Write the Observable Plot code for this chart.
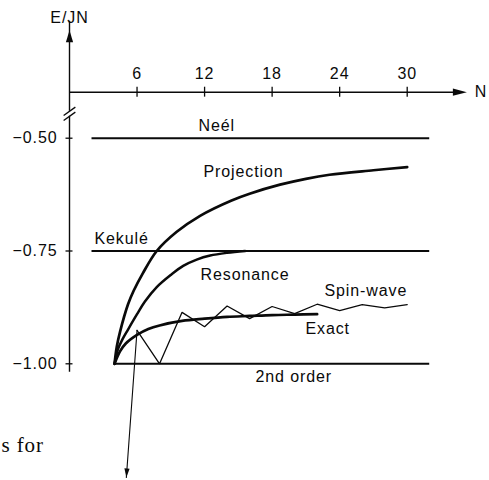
<!DOCTYPE html>
<html><head><meta charset="utf-8">
<script src="https://cdn.jsdelivr.net/npm/d3@7"></script>
<script src="https://cdn.jsdelivr.net/npm/@observablehq/plot@0.6"></script>
<style>body{margin:0;background:#fff} svg{display:block}</style>
</head><body><div id="chart"></div>
<script>
// ---- tick values / labels ----
const xTicks = [6, 12, 18, 24, 30];
const yTicks = [-1.00, -0.75, -0.50];
const yTickLabels = ["\u22121.00", "\u22120.75", "\u22120.50"];

// ---- horizontal reference levels ----
const levelNames  = ["Neél", "Kekulé", "2nd order"];
const levelValues = [-0.50, -0.75, -1.00];
const levelFrom   = [2, 2, 4];
const levelTo     = [32, 32, 32];

// ---- curves (N, E/JN) ----
const projN = [4, 4.2, 4.5, 5.2, 5.7, 6.5, 7.75, 9.5, 11.6, 14.4, 16, 18.7, 21, 23.1, 27, 30];
const projE = [-1.0, -0.962, -0.928, -0.868, -0.838, -0.800, -0.750, -0.708, -0.672, -0.638, -0.623, -0.603, -0.590, -0.581, -0.571, -0.564];

const resN = [4, 4.3, 4.7, 5.2, 6, 6.7, 7.75, 9, 10.1, 11.3, 12.5, 14, 15.6];
const resE = [-1.0, -0.968, -0.946, -0.924, -0.890, -0.862, -0.830, -0.803, -0.783, -0.769, -0.760, -0.754, -0.750];

const exactN = [4, 4.5, 5, 6, 7, 8, 10, 12, 14, 16, 18, 20, 22];
const exactE = [-1.0, -0.972, -0.955, -0.936, -0.923, -0.915, -0.905, -0.900, -0.896, -0.894, -0.892, -0.891, -0.890];

const spinN = [6, 8, 10, 12, 14, 16, 18, 20, 22, 24, 26, 28, 30];
const spinE = [-0.926, -1.0, -0.886, -0.918, -0.872, -0.900, -0.873, -0.889, -0.868, -0.882, -0.869, -0.876, -0.869];

// ---- annotation arrow (from spin-wave start downwards) ----
const noteArrowN = [6, 5.05];
const noteArrowE = [-0.926, -1.252];

// ---- curve labels ----
const labelText = ["Neél", "Projection", "Kekulé", "Resonance", "Spin-wave", "Exact", "2nd order"];
const labelN    = [11.46, 11.9, 2.22, 11.64, 22.65, 20.96, 16.52];
const labelE    = [-0.4727, -0.5736, -0.7221, -0.804, -0.8373, -0.9215, -1.0279];

// ---- axis geometry (data units) ----
const axisE = -0.398;        // where the N axis sits (above the break)
const xAxisEnd = 35.3;
const yAxisTop = -0.261;
const yAxisBottom = -1.019;
const breakTop = -0.4404, breakBottom = -0.4515;
const slashHalfN = 0.52, slashHalfE = 0.0093;
const xTickHalf = 0.011, yTickHalf = 0.31;

const levels = levelNames.map((n, i) => ({name: n, e: levelValues[i], a: levelFrom[i], b: levelTo[i]}));
const zip = (xs, ys) => xs.map((x, i) => ({n: x, e: ys[i]}));
const proj = zip(projN, projE), res = zip(resN, resE), exact = zip(exactN, exactE), spin = zip(spinN, spinE);
const note = zip(noteArrowN, noteArrowE);
const labels = labelText.map((t, i) => ({t, n: labelN[i], e: labelE[i]}));
const slashes = [breakTop, breakBottom].map(c => ({x1: -slashHalfN, y1: c - slashHalfE, x2: slashHalfN, y2: c + slashHalfE}));

function head(dx, dy, L, Wd) {
  const k = Math.hypot(dx, dy), ux = dx / k, uy = dy / k;
  return {draw(ctx) {
    ctx.moveTo(0, 0);
    ctx.lineTo(-ux * L - uy * Wd, -uy * L + ux * Wd);
    ctx.lineTo(-ux * L + uy * Wd, -uy * L - ux * Wd);
    ctx.closePath();
  }};
}

const ink = "#0a0a0a";
const chart = Plot.plot({
  width: 489, height: 480,
  marginTop: 0, marginRight: 0, marginBottom: 0, marginLeft: 0,
  x: {domain: [0, 30], range: [69, 406.7]},
  y: {domain: [-1, -0.5], range: [363.3, 137.7]},
  axis: null,
  style: "font-family: 'Liberation Sans', Arial, Helvetica, sans-serif; letter-spacing: 0.9px; background: #fff; color: #0a0a0a;",
  marks: [
    // N axis
    Plot.ruleY([axisE], {x1: 0, x2: xAxisEnd - 0.8, stroke: ink, strokeWidth: 1.4}),
    Plot.dot([{n: xAxisEnd, e: axisE}], {x: "n", y: "e", symbol: head(1, 0, 14, 3.6), fill: ink, stroke: null}),
    Plot.ruleX(xTicks, {x: d => d, y1: axisE - xTickHalf, y2: axisE + xTickHalf, stroke: ink, strokeWidth: 1.3}),
    Plot.text(xTicks, {x: d => d, y: axisE, dy: -18, text: d => String(d), fontSize: 16, fill: ink}),
    Plot.text(["N"], {x: xAxisEnd, y: axisE, dx: 8, textAnchor: "start", fontSize: 16, fill: ink}),
    // E axis (with break)
    Plot.ruleX([0], {y1: breakTop, y2: yAxisTop + 0.02, stroke: ink, strokeWidth: 1.4}),
    Plot.ruleX([0], {y1: yAxisBottom, y2: breakBottom, stroke: ink, strokeWidth: 1.4}),
    Plot.link(slashes, {x1: "x1", y1: "y1", x2: "x2", y2: "y2", stroke: ink, strokeWidth: 1.3}),
    Plot.dot([{n: 0, e: yAxisTop}], {x: "n", y: "e", symbol: head(0, -1, 12, 3.6), fill: ink, stroke: null}),
    Plot.ruleY(yTicks, {y: d => d, x1: -yTickHalf, x2: yTickHalf, stroke: ink, strokeWidth: 1.3}),
    Plot.text(yTicks, {x: 0, y: d => d, dx: -12, textAnchor: "end", text: (d, i) => yTickLabels[i], fontSize: 16, fill: ink}),
    Plot.text(["E/JN"], {x: 0, y: yAxisTop, dy: -12, fontSize: 16, fill: ink, style: "letter-spacing:2px"}),
    // reference levels
    Plot.ruleY(levels, {y: "e", x1: "a", x2: "b", stroke: ink, strokeWidth: 2}),
    // curves
    Plot.line(proj, {x: "n", y: "e", curve: "catmull-rom", stroke: ink, strokeWidth: 2.7}),
    Plot.line(res, {x: "n", y: "e", curve: "catmull-rom", stroke: ink, strokeWidth: 2.5}),
    Plot.line(exact, {x: "n", y: "e", curve: "catmull-rom", stroke: ink, strokeWidth: 2.7}),
    Plot.line(spin, {x: "n", y: "e", stroke: ink, strokeWidth: 1.3, strokeLinejoin: "miter"}),
    // annotation arrow
    Plot.line(note, {x: "n", y: "e", stroke: ink, strokeWidth: 1.1}),
    Plot.dot([note[1]], {x: "n", y: "e", symbol: head(noteArrowN[1] - noteArrowN[0], -(noteArrowE[1] - noteArrowE[0]) * 40, 9, 2.6), fill: ink, stroke: null}),
    // labels
    Plot.text(labels, {x: "n", y: "e", text: "t", textAnchor: "start", fontSize: 16, fill: ink}),
    Plot.text(["s for"], {frameAnchor: "bottom-left", dx: 1, dy: -29, textAnchor: "start", fontSize: 21, fontFamily: "'Liberation Serif', 'Times New Roman', serif", fill: ink})
  ]
});
document.getElementById("chart").appendChild(chart);
</script>
</body></html>
